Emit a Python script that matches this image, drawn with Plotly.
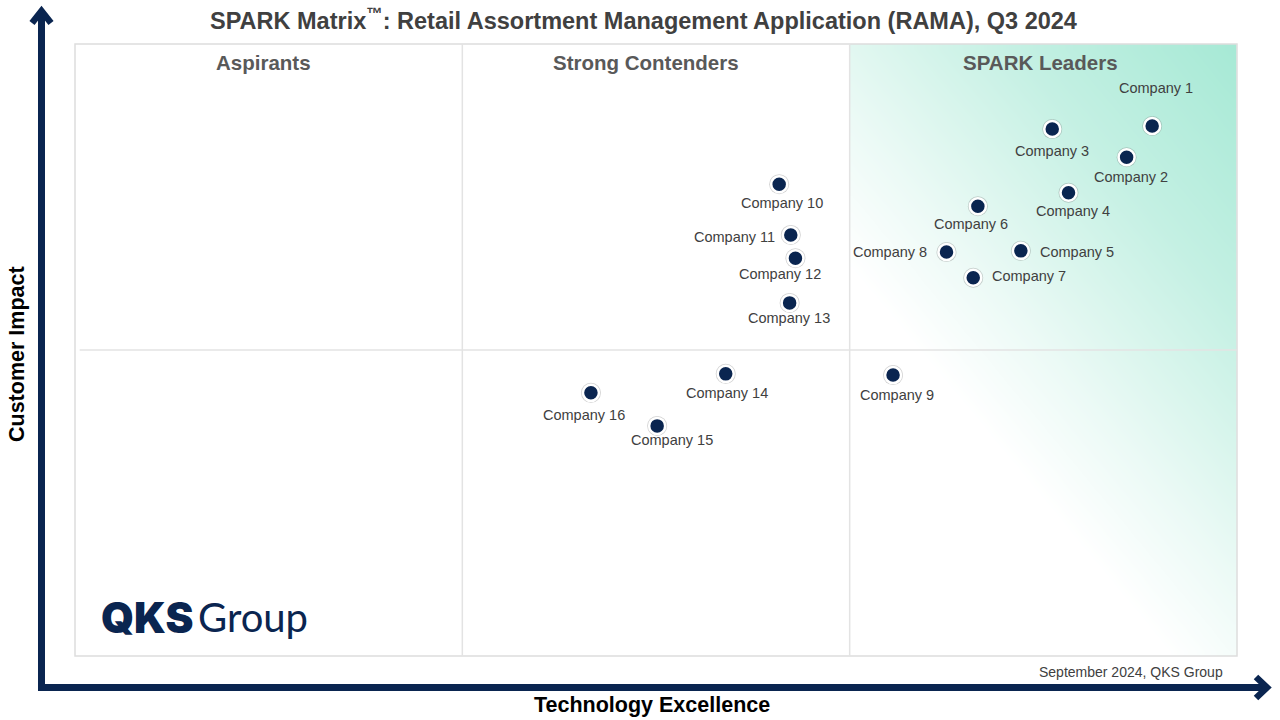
import plotly.graph_objects as go
import numpy as np

# ---------------- data ----------------
companies = ["Company 1", "Company 2", "Company 3", "Company 4", "Company 5", "Company 6",
             "Company 7", "Company 8", "Company 9", "Company 10", "Company 11", "Company 12",
             "Company 13", "Company 14", "Company 15", "Company 16"]
tech_excellence = [92.7, 90.5, 84.1, 85.5, 81.4, 77.7, 77.3, 75.0, 70.4, 60.6, 61.6, 62.0,
                   61.5, 56.0, 50.1, 44.4]
customer_impact = [86.6, 81.5, 86.1, 75.7, 66.2, 73.5, 61.8, 66.0, 45.9, 77.1, 68.8, 65.0,
                   57.7, 46.1, 37.6, 43.0]
quadrant_names = ["Aspirants", "Strong Contenders", "SPARK Leaders"]

# label placement (pixel offsets from the dot, and anchor)
label_dx = [4, 4, 0, 4, 17, -7, 17, -18, 4, 3, -14, -15, -1, 1, 15, -7]
label_dy = [-38, 20, 22, 18, 1, 18, -2, 0, 20, 19, 2, 16, 15, 19, 14, 22]
label_anchor = ["center", "center", "center", "center", "left", "center", "left", "right",
                "center", "center", "right", "center", "center", "center", "center", "center"]

# ---------------- layout geometry ----------------
W, H = 1280, 720
L, R, T, B = 75, 1237, 44, 656
PW, PH = R - L, B - T
NAVY = "#0a2550"


def paper(px, py):
    return (px - L) / PW, (B - py) / PH


fig = go.Figure()

# Leaders gradient background
N = 60
xe = np.linspace(100 / 3 * 2, 100, N + 1)
ye = np.linspace(0, 100, N + 1)
uc = (np.arange(N) + 0.5) / N
vc = (np.arange(N) + 0.5) / N
U, V = np.meshgrid(uc, vc)
Z = 0.433 * U + 0.567 * V
fig.add_trace(go.Heatmap(
    x=xe, y=ye, z=Z, zmin=0, zmax=1, zsmooth="best", showscale=False, hoverinfo="skip",
    colorscale=[[0, "#ffffff"], [0.36, "#ffffff"], [0.5, "#ecfaf6"], [0.6, "#dcf6ee"],
                [0.75, "#c4f0e3"], [1, "#a6e9d5"]],
))

# dots: soft outer ring then navy dot with white rim
fig.add_trace(go.Scatter(
    x=tech_excellence, y=customer_impact, mode="markers", hoverinfo="skip",
    marker=dict(size=20, color="rgba(90,90,90,0.28)", line=dict(width=0)), showlegend=False))
fig.add_trace(go.Scatter(
    x=tech_excellence, y=customer_impact, mode="markers", text=companies,
    marker=dict(size=16, color=NAVY, line=dict(width=2.5, color="white")), showlegend=False))

annotations = []
for name, xv, yv, dx, dy, anc in zip(companies, tech_excellence, customer_impact,
                                     label_dx, label_dy, label_anchor):
    annotations.append(dict(
        x=xv, y=yv, xref="x", yref="y", text=name, showarrow=False,
        xanchor=anc, yanchor="middle", xshift=dx, yshift=-dy,
        font=dict(family="Liberation Sans, Arial", size=14.5, color="#404040")))

# quadrant titles
quad_px = [263, 646, 1040]
for name, qx in zip(quadrant_names, quad_px):
    xp, yp = paper(qx, 62)
    annotations.append(dict(
        x=xp, y=yp, xref="paper", yref="paper", text=f"<b>{name}</b>", showarrow=False,
        xanchor="center", yanchor="middle",
        font=dict(family="Liberation Sans, Arial", size=20.5, color="#595959")))

# title
xp, yp = paper(643, 19)
annotations.append(dict(
    x=xp, y=yp, xref="paper", yref="paper",
    text="<b>SPARK Matrix<sup>™</sup>: Retail Assortment Management Application (RAMA), Q3 2024</b>",
    showarrow=False, xanchor="center", yanchor="middle",
    font=dict(family="Liberation Sans, Arial", size=23.5, color="#404040")))

# axis titles
xp, yp = paper(652, 705)
annotations.append(dict(
    x=xp, y=yp, xref="paper", yref="paper", text="<b>Technology Excellence</b>",
    showarrow=False, xanchor="center", yanchor="middle",
    font=dict(family="Liberation Sans, Arial", size=21.5, color="#000000")))
xp, yp = paper(17, 354)
annotations.append(dict(
    x=xp, y=yp, xref="paper", yref="paper", text="<b>Customer Impact</b>", textangle=-90,
    showarrow=False, xanchor="center", yanchor="middle",
    font=dict(family="Liberation Sans, Arial", size=21.5, color="#000000")))

# footer
xp, yp = paper(1225, 672)
annotations.append(dict(
    x=xp, y=yp, xref="paper", yref="paper", text="September 2024, QKS Group",
    showarrow=False, xanchor="right", yanchor="middle",
    font=dict(family="Liberation Sans, Arial", size=14, color="#404040")))

# logo
xp, yp = paper(99, 617)
annotations.append(dict(
    x=xp, y=yp, xref="paper", yref="paper", text="QKS",
    showarrow=False, xanchor="left", yanchor="middle",
    font=dict(family="Inter", size=42, color=NAVY, weight=900)))
xp, yp = paper(196, 617)
annotations.append(dict(
    x=xp, y=yp, xref="paper", yref="paper", text="Group",
    showarrow=False, xanchor="left", yanchor="middle",
    font=dict(family="Lato", size=40, color=NAVY, weight=400)))

shapes = []
GRID = "#e3e3e3"
# outer box
shapes.append(dict(type="rect", xref="paper", yref="paper", x0=0, y0=0, x1=1, y1=1,
                   line=dict(color="#dddddd", width=1.5), layer="above"))
# dividers
for xv in (100 / 3, 200 / 3):
    shapes.append(dict(type="line", xref="x", yref="y", x0=xv, x1=xv, y0=0, y1=100,
                       line=dict(color=GRID, width=1.5), layer="above"))
shapes.append(dict(type="line", xref="x", yref="y", x0=0.4, x1=100, y0=50, y1=50,
                   line=dict(color=GRID, width=1.5), layer="above"))


def path(points):
    s = ""
    for i, (px, py) in enumerate(points):
        xp, yp = paper(px, py)
        s += ("M" if i == 0 else " L") + f" {xp:.5f},{yp:.5f}"
    return s


# axis arrows
shapes.append(dict(type="path", xref="paper", yref="paper",
                   path=path([(41.5, 691), (41.5, 12)]),
                   line=dict(color=NAVY, width=7), layer="above"))
shapes.append(dict(type="path", xref="paper", yref="paper",
                   path=path([(32, 23), (41.5, 11), (51, 23)]),
                   line=dict(color=NAVY, width=6.5), layer="above"))
shapes.append(dict(type="path", xref="paper", yref="paper",
                   path=path([(38, 687.5), (1266, 687.5)]),
                   line=dict(color=NAVY, width=7), layer="above"))
shapes.append(dict(type="path", xref="paper", yref="paper",
                   path=path([(1256, 677), (1267, 687.5), (1256, 698)]),
                   line=dict(color=NAVY, width=6.5), layer="above"))

fig.update_layout(
    width=W, height=H,
    margin=dict(l=L, r=W - R, t=T, b=H - B, pad=0),
    paper_bgcolor="white", plot_bgcolor="white",
    xaxis=dict(range=[0, 100], visible=False, fixedrange=True),
    yaxis=dict(range=[0, 100], visible=False, fixedrange=True),
    annotations=annotations, shapes=shapes, showlegend=False,
)

fig.write_html("out.html", config={"displayModeBar": False},
               post_script="document.body.style.margin='0px';document.body.style.padding='0px';")
